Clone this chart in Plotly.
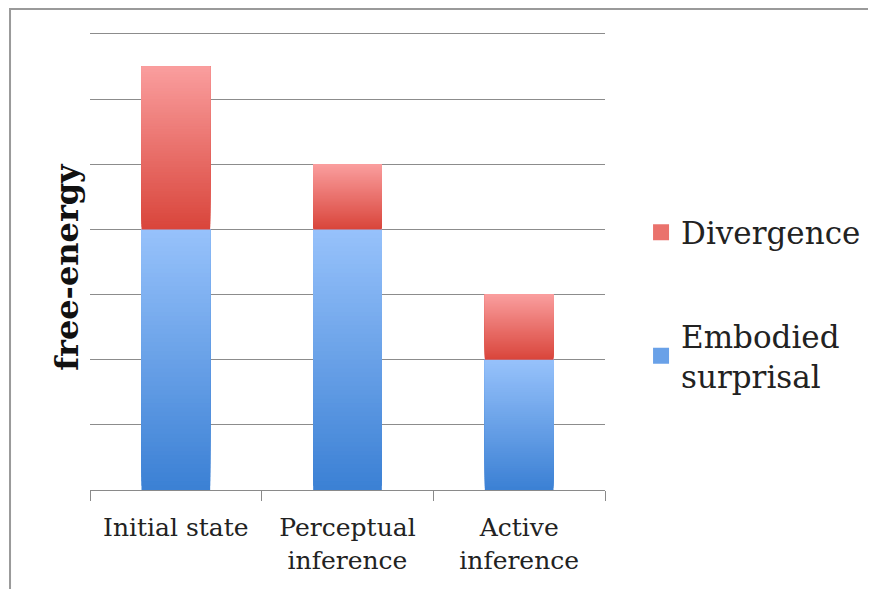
import plotly.graph_objects as go

categories = ["Initial state", "Perceptual<br>inference", "Active<br>inference"]
surprisal = [4, 4, 2]
divergence = [2.5, 1, 1]

series = [
    # name, values, bottom colour, top colour
    ("Embodied<br>surprisal", surprisal, (59, 128, 212), (151, 194, 251)),
    ("Divergence", divergence, (217, 69, 59), (250, 158, 158)),
]

N = 60  # layers used to emulate the vertical gradient fill


def mix(c0, c1, t):
    return "rgb(%d,%d,%d)" % tuple(round(a + (b - a) * t) for a, b in zip(c0, c1))


fig = go.Figure()
bases = [0.0] * len(categories)
for name, vals, c_bot, c_top in series:
    # each layer runs from its start up to the segment top; later layers cover
    # the upper part, so the visible bands form a seamless gradient
    for k in range(N):
        col = mix(c_bot, c_top, (k + 0.5) / N)
        fig.add_trace(go.Bar(
            x=categories,
            y=[v * (N - k) / N for v in vals],
            base=[b + v * k / N for b, v in zip(bases, vals)],
            width=0.4,
            marker=dict(color=col, line=dict(width=0)),
            showlegend=False,
            hoverinfo="skip",
        ))
    bases = [b + v for b, v in zip(bases, vals)]

# legend entries
legend_rank = {"Divergence": 1, "Embodied<br>surprisal": 2}
for name, vals, c_bot, c_top in series:
    fig.add_trace(go.Scatter(
        x=[None], y=[None], mode="markers", name=name,
        marker=dict(symbol="square", size=16, color=mix(c_bot, c_top, 0.5)),
        legendrank=legend_rank[name], legendgroup=name,
    ))

font = "DejaVu Serif"
fig.update_layout(
    width=876, height=589,
    margin=dict(l=82, r=279, t=22, b=107),
    paper_bgcolor="white", plot_bgcolor="white",
    barmode="overlay",
    font=dict(family=font, color="#222222"),
    legend=dict(
        x=1.07, y=0.618, xanchor="left", yanchor="top",
        font=dict(family=font, size=31, color="#222222"),
        traceorder="grouped", tracegroupgap=60,
        itemsizing="trace",
    ),
    xaxis=dict(
        showline=True, linecolor="#8a8a8a", linewidth=1,
        ticks="outside", tickson="boundaries", ticklen=10, tickcolor="#8a8a8a",
        tickfont=dict(family=font, size=25, color="#222222"),
        ticklabelstandoff=15,
        showgrid=False, zeroline=False,
    ),
    yaxis=dict(
        range=[0, 7.06], tick0=0, dtick=1, showticklabels=False, ticks="",
        showgrid=True, gridcolor="#8c8c8c", gridwidth=1,
        zeroline=False, showline=False,
    ),
    annotations=[dict(
        text="<b>free-energy</b>", textangle=-90,
        xref="paper", yref="paper", x=-0.045, y=0.485,
        xanchor="center", yanchor="middle", showarrow=False,
        font=dict(family=font, size=32, color="#111111"),
    )],
    shapes=[dict(
        type="rect", xref="paper", yref="paper",
        x0=-0.1553, x1=1.56, y0=-0.3, y1=1.0457,
        line=dict(color="#9a9a9a", width=2), fillcolor="rgba(0,0,0,0)",
        layer="below",
    )],
)

fig.write_html("out.html")
